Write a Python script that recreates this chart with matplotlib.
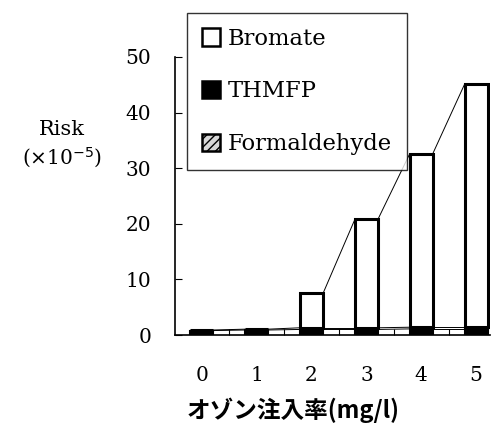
import numpy as np
import matplotlib
matplotlib.use('Agg')
import matplotlib.pyplot as plt
from matplotlib.patches import Patch

# values (x10^-5)
doses = [0, 1, 2, 3, 4, 5]
thmfp = [0.8, 0.9, 1.0, 1.0, 1.1, 1.1]
formaldehyde = [0.1, 0.15, 0.3, 0.3, 0.3, 0.3]
bromate = [np.nan, np.nan, 6.2, 19.5, 31.2, 43.7]
series_names = ['Bromate', 'THMFP', 'Formaldehyde']

x = np.arange(len(doses))
w = 0.42

fig = plt.figure(figsize=(4.95, 4.26), dpi=100)
ax = fig.add_axes([0.3535, 0.2136, 0.636, 0.6526])

b0 = np.array(thmfp)
b1 = b0 + np.array(formaldehyde)
brom = np.nan_to_num(np.array(bromate))
b2 = b1 + brom

ax.bar(x, thmfp, w, color='black', edgecolor='black', linewidth=1.5)
ax.bar(x, formaldehyde, w, bottom=b0, color='#d8d8d8', edgecolor='black', linewidth=0.8)
ax.bar(x, brom, w, bottom=b1, color='white', edgecolor='black', linewidth=2.2)

# series lines between bars
def series_line(tops, valid):
    for i in range(len(tops) - 1):
        if valid[i] and valid[i + 1]:
            ax.plot([x[i] + w / 2, x[i + 1] - w / 2], [tops[i], tops[i + 1]],
                    color='black', lw=0.7, zorder=1)

series_line(b0, [True] * 6)
series_line(b1, [True] * 6)
series_line(b2, [not np.isnan(v) for v in bromate])

ax.set_xlim(-0.49, 5.25)
ax.set_ylim(0, 50)
ax.set_yticks([0, 10, 20, 30, 40, 50])
ax.set_xticks(x)
ax.set_xticklabels([str(d) for d in doses])
ax.set_xticks(x[:-1] + 0.5, minor=True)
ax.tick_params(axis='x', which='major', length=0, pad=22)
ax.tick_params(axis='x', which='minor', direction='in', length=4, width=0.8)
ax.tick_params(axis='y', direction='in', length=5, width=0.8, pad=17)
for lab in ax.get_xticklabels() + ax.get_yticklabels():
    lab.set_fontfamily('DejaVu Serif')
    lab.set_fontsize(14.5)
for s in ['top', 'right']:
    ax.spines[s].set_visible(False)
for s in ['left', 'bottom']:
    ax.spines[s].set_linewidth(1.2)

fig.text(0.125, 0.695, 'Risk', family='DejaVu Serif', fontsize=15, ha='center', va='center')
fig.text(0.125, 0.629, r'($\times$10$^{-5}$)', family='DejaVu Serif', fontsize=14.5, ha='center', va='center')

fig.text(0.593, 0.037, 'オゾン注入率(mg/l)', family=['Noto Sans CJK JP', 'DejaVu Sans'],
         fontsize=17, fontweight='bold', ha='center', va='center')

handles = [Patch(facecolor='white', edgecolor='black', linewidth=1.8),
           Patch(facecolor='black', edgecolor='black', linewidth=1.8),
           Patch(facecolor='#d8d8d8', edgecolor='black', linewidth=1.8, hatch='////')]
leg = fig.legend(handles, series_names, loc='upper left', bbox_to_anchor=(0.378, 0.969),
                 frameon=True, fancybox=False, edgecolor='black', handlelength=0.8,
                 handleheight=0.8, handletextpad=0.35, labelspacing=1.35, borderpad=0.65,
                 borderaxespad=0, prop={'family': 'DejaVu Serif', 'size': 16.3})
leg.get_frame().set_linewidth(1.0)

fig.savefig('out.png', dpi=100)
